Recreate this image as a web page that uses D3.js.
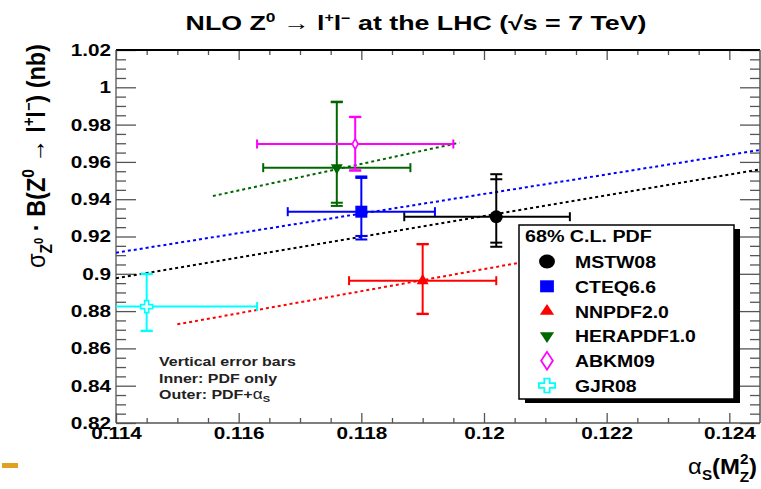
<!DOCTYPE html>
<html>
<head>
<meta charset="utf-8">
<script src="https://cdn.jsdelivr.net/npm/d3@7"></script>
<style>
  body { margin: 0; background: #fff; }
  svg { display: block; }
  text { font-family: "Liberation Sans", Arial, Helvetica, sans-serif; font-weight: bold; fill: #000; }
</style>
</head>
<body>
<svg id="chart" width="761" height="489"></svg>
<script>
// ---- data: Z0 -> l+l- cross section vs alpha_S(M_Z^2) for each PDF set ----
const pdfNames   = ["MSTW08", "CTEQ6.6", "NNPDF2.0", "HERAPDF1.0", "ABKM09", "GJR08"];
const pdfColors  = ["#000000", "#0000ff", "#ff0000", "#006600", "#ff00ff", "#00ffff"];
const pdfSymbols = ["circle", "square", "triangle", "triangleDown", "diamondOpen", "crossOpen"];

const alphaS     = [0.1202, 0.1180, 0.1190, 0.1176, 0.1179, 0.1145];
const alphaSLow  = [0.1187, 0.1168, 0.1178, 0.1164, 0.1163, 0.1127];
const alphaSHigh = [0.1214, 0.1192, 0.1202, 0.1188, 0.1195, 0.1163];

const sigma        = [0.9306, 0.9333, 0.8963, 0.9569, 0.9696, 0.8824];
const sigmaPdfLow  = [0.9167, 0.9203, 0.8786, 0.9381, 0.9555, 0.8695];
const sigmaPdfHigh = [0.9507, 0.9514, 0.9158, 0.9920, 0.9840, 0.8998];
const sigmaTotLow  = [0.9145, 0.9184, 0.8784, 0.9364, 0.9553, 0.8693];
const sigmaTotHigh = [0.9534, 0.9522, 0.9160, 0.9923, 0.9842, 0.9000];

// cross section as a function of alpha_S for the sets that provide a series
const curveSets   = ["HERAPDF1.0", "CTEQ6.6", "MSTW08", "NNPDF2.0"];
const curveAlphaS = [[0.11558, 0.1196], [0.114, 0.1245], [0.114, 0.1245], [0.115, 0.123]];
const curveSigma  = [[0.9417, 0.9703], [0.9113, 0.9664], [0.8976, 0.9560], [0.8729, 0.9203]];

const xTickLabels = ["0.114", "0.116", "0.118", "0.12", "0.122", "0.124"];
const yTickLabels = ["0.82", "0.84", "0.86", "0.88", "0.9", "0.92", "0.94", "0.96", "0.98", "1", "1.02"];

// ---- layout ----
const svg = d3.select("#chart");
const frame = { left: 116, right: 760, top: 50, bottom: 423 };
const x = d3.scaleLinear().domain([0.114, 0.1245]).range([frame.left, frame.right]);
const y = d3.scaleLinear().domain([0.82, 1.02]).range([frame.bottom, frame.top]);

const xMajor = xTickLabels.map(Number);
const yMajor = yTickLabels.map(Number);
const xMinor = d3.range(0, 21).map(i => 0.114 + i * 0.0005)
  .filter(v => !xMajor.some(m => Math.abs(m - v) < 1e-7));
const yMinor = d3.range(0, 41).map(i => 0.82 + i * 0.005)
  .filter(v => !yMajor.some(m => Math.abs(m - v) < 1e-7));

const tickSX = 1.22;   // horizontal stretch of tick label glyphs

function stretchTo(sel, target, sy) {
  const w = sel.node().getBBox().width;
  sel.attr("transform", `scale(${target / w},${sy || 1})`);
  return target / w;
}
function styleTicks(g) {
  g.select(".domain").remove();
  g.selectAll(".tick line").attr("stroke", "#555").attr("stroke-width", 1.3);
  g.attr("font-family", null).attr("font-size", null);
}

// ticks on all four sides, pointing inward
[
  [d3.axisBottom(x).tickValues(xMinor).tickSize(-5).tickFormat(""), `translate(0,${frame.bottom})`],
  [d3.axisTop(x).tickValues(xMinor).tickSize(-5).tickFormat(""), `translate(0,${frame.top})`],
  [d3.axisTop(x).tickValues(xMajor).tickSize(-10).tickFormat(""), `translate(0,${frame.top})`],
  [d3.axisLeft(y).tickValues(yMinor).tickSize(-10).tickFormat(""), `translate(${frame.left},0)`],
  [d3.axisRight(y).tickValues(yMinor).tickSize(-10).tickFormat(""), `translate(${frame.right},0)`],
  [d3.axisRight(y).tickValues(yMajor).tickSize(-20).tickFormat(""), `translate(${frame.right},0)`]
].forEach(([axis, tr]) => styleTicks(svg.append("g").attr("transform", tr).call(axis)));

const gx = svg.append("g").attr("transform", `translate(0,${frame.bottom})`)
  .call(d3.axisBottom(x).tickValues(xMajor).tickSize(-10).tickPadding(4)
    .tickFormat((d, i) => xTickLabels[i]));
styleTicks(gx);
gx.selectAll("text").attr("font-size", 17).attr("fill", "#000")
  .attr("transform", `scale(${tickSX},1)`);

const gy = svg.append("g").attr("transform", `translate(${frame.left},0)`)
  .call(d3.axisLeft(y).tickValues(yMajor).tickSize(-20).tickPadding(5)
    .tickFormat((d, i) => yTickLabels[i]));
styleTicks(gy);
gy.selectAll("text").attr("font-size", 17).attr("fill", "#000")
  .attr("x", -5 / tickSX).attr("transform", `scale(${tickSX},1)`);

// frame
svg.append("line").attr("x1", frame.left).attr("x2", frame.right).attr("y1", frame.top).attr("y2", frame.top)
  .attr("stroke", "#000").attr("stroke-width", 2);
svg.append("line").attr("x1", frame.right).attr("x2", frame.right).attr("y1", frame.top).attr("y2", frame.bottom)
  .attr("stroke", "#555").attr("stroke-width", 1.5);
svg.append("line").attr("x1", frame.left).attr("x2", frame.right).attr("y1", frame.bottom).attr("y2", frame.bottom)
  .attr("stroke", "#555").attr("stroke-width", 1.3);
svg.append("line").attr("x1", frame.left).attr("x2", frame.left).attr("y1", frame.top).attr("y2", frame.bottom)
  .attr("stroke", "#555").attr("stroke-width", 1.3);

// clip to the plotting frame
svg.append("defs").append("clipPath").attr("id", "plotClip")
  .append("rect").attr("x", frame.left).attr("y", frame.top)
  .attr("width", frame.right - frame.left).attr("height", frame.bottom - frame.top);
const gData = svg.append("g").attr("clip-path", "url(#plotClip)");

// dotted sigma(alpha_S) curves
const line = d3.line().x(d => x(d[0])).y(d => y(d[1]));
curveSets.forEach((name, k) => {
  const col = pdfColors[pdfNames.indexOf(name)];
  gData.append("path")
    .attr("d", line(curveAlphaS[k].map((a, j) => [a, curveSigma[k][j]])))
    .attr("fill", "none").attr("stroke", col).attr("stroke-width", 2)
    .attr("stroke-dasharray", "3,3");
});

// marker glyphs
function marker(sel, type, color, cx, cy, big) {
  const s = big ? 1.15 : 1;
  let d, fill = color, rot = 0, sy = 1;
  switch (type) {
    case "circle": d = d3.symbol(d3.symbolCircle, big ? 150 : 133)(); break;
    case "square": d = d3.symbol(d3.symbolSquare, big ? 144 : 144)(); break;
    case "triangle": d = d3.symbol(d3.symbolTriangle, big ? 66 : 62)(); break;
    case "triangleDown": d = d3.symbol(d3.symbolTriangle, big ? 66 : 62)(); rot = 180; break;
    case "diamondOpen": d = d3.symbol(d3.symbolDiamond, big ? 90 : 30)(); fill = "#fff"; break;
    case "crossOpen": d = d3.symbol(d3.symbolCross, big ? 110 : 80)(); fill = "#fff"; break;
  }
  const open = fill === "#fff";
  sel.append("path").attr("d", d)
    .attr("transform", `translate(${cx},${cy}) scale(${s},${sy}) rotate(${rot})`)
    .attr("fill", fill)
    .attr("stroke", open ? color : "none")
    .attr("stroke-width", open ? 1.6 : 0);
}

// error bars + markers
pdfNames.forEach((name, i) => {
  const col = pdfColors[i];
  const cx = x(alphaS[i]), cy = y(sigma[i]);
  const g = gData.append("g").attr("stroke", col).attr("stroke-width", 2).attr("fill", "none");
  const hl = x(alphaSLow[i]), hh = x(alphaSHigh[i]);
  g.append("line").attr("x1", hl).attr("x2", hh).attr("y1", cy).attr("y2", cy);
  [hl, hh].forEach(px => g.append("line").attr("x1", px).attr("x2", px).attr("y1", cy - 4.5).attr("y2", cy + 4.5));
  g.append("line").attr("x1", cx).attr("x2", cx).attr("y1", y(sigmaTotLow[i])).attr("y2", y(sigmaTotHigh[i]));
  [sigmaTotLow[i], sigmaTotHigh[i], sigmaPdfLow[i], sigmaPdfHigh[i]].forEach(v =>
    g.append("line").attr("x1", cx - 6).attr("x2", cx + 6).attr("y1", y(v)).attr("y2", y(v)));
  marker(gData, pdfSymbols[i], col, cx, cy, false);
});

// legend
const leg = { x: 519, y: 225, w: 215, h: 174 };
svg.append("rect").attr("x", leg.x + 6).attr("y", leg.y + 4).attr("width", leg.w).attr("height", leg.h).attr("fill", "#000");
svg.append("rect").attr("x", leg.x).attr("y", leg.y).attr("width", leg.w).attr("height", leg.h)
  .attr("fill", "#fff").attr("stroke", "#000").attr("stroke-width", 1.5);
const hdr = svg.append("g").attr("transform", `translate(${leg.x + 6},242)`)
  .append("text").attr("font-size", 17).text("68% C.L. PDF");
stretchTo(hdr, 127);
let legSX = null;
pdfNames.forEach((name, i) => {
  const base = 268 + i * 24.8;
  marker(svg, pdfSymbols[i], pdfColors[i], 547, base - 6.5, true);
  const t = svg.append("g").attr("transform", `translate(575,${base})`)
    .append("text").attr("font-size", 17).text(name);
  if (legSX === null) {
    const probe = svg.append("text").attr("font-size", 17).text("HERAPDF1.0");
    legSX = 121 / probe.node().getBBox().width;
    probe.remove();
  }
  t.attr("transform", `scale(${legSX},1)`);
});

// note on the error bars
const noteLines = ["Vertical error bars", "Inner: PDF only", "Outer: PDF+"];
let noteSX = null;
noteLines.forEach((s, i) => {
  const t = svg.append("g").attr("transform", `translate(159,${366 + i * 16.5})`)
    .append("text").attr("font-size", 13).attr("fill", "#222").style("fill", "#222").text(s);
  if (i === 2) {
    t.append("tspan").attr("font-size", 14).attr("font-weight", "normal").text("α");
    t.append("tspan").attr("font-size", 9).attr("dy", 3).text("S");
  }
  if (noteSX === null) noteSX = stretchTo(t, 137);
  else t.attr("transform", `scale(${noteSX},1)`);
});

// title
const title = svg.append("g").attr("transform", "translate(416,30)")
  .append("text").attr("text-anchor", "middle").attr("font-size", 20);
title.append("tspan").text("NLO Z");
title.append("tspan").attr("font-size", 13).attr("dy", -8).text("0");
title.append("tspan").attr("dy", 8).attr("font-weight", "normal").text(" \u2192 ");
title.append("tspan").text("l");
title.append("tspan").attr("font-size", 12).attr("dy", -8).text("+");
title.append("tspan").attr("dy", 8).text("l");
title.append("tspan").attr("font-size", 12).attr("dy", -8).text("\u2212");
title.append("tspan").attr("dy", 8).text(" at the LHC (\u221As = 7 TeV)");
stretchTo(title, 461);

// y-axis title
const yt = svg.append("g").attr("transform", "translate(45,156) rotate(-90)")
  .append("text").attr("text-anchor", "middle").attr("font-size", 21);
yt.append("tspan").attr("font-weight", "normal").text("\u03C3");
yt.append("tspan").attr("font-size", 14).attr("dy", 6).text("Z");
yt.append("tspan").attr("font-size", 10).attr("dy", -8).text("0");
yt.append("tspan").attr("dy", 2).text(" \u00B7 B(Z");
yt.append("tspan").attr("font-size", 14).attr("dy", -9).text("0");
yt.append("tspan").attr("dy", 9).attr("font-weight", "normal").text(" \u2192 ");
yt.append("tspan").text("l");
yt.append("tspan").attr("font-size", 13).attr("dy", -9).text("+");
yt.append("tspan").attr("dy", 9).text("l");
yt.append("tspan").attr("font-size", 13).attr("dy", -9).text("\u2212");
yt.append("tspan").attr("dy", 9).text(")  (nb)");
stretchTo(yt, 224, 1.2);

// x-axis title
const xt = svg.append("g").attr("transform", "translate(757,474)")
  .append("text").attr("text-anchor", "end").attr("font-size", 22);
xt.append("tspan").attr("font-weight", "normal").text("\u03B1");
xt.append("tspan").attr("font-size", 14).attr("dy", 6).text("S");
xt.append("tspan").attr("dy", -6).text("(M");
xt.append("tspan").attr("font-size", 14).attr("dy", -10).text("2");
xt.append("tspan").attr("font-size", 14).attr("dx", -8).attr("dy", 18).text("Z");
xt.append("tspan").attr("dy", -8).text(")");
stretchTo(xt, 69);

// slide accent mark
svg.append("rect").attr("x", 2).attr("y", 463).attr("width", 16).attr("height", 5).attr("fill", "#e0a020");
</script>
</body>
</html>
